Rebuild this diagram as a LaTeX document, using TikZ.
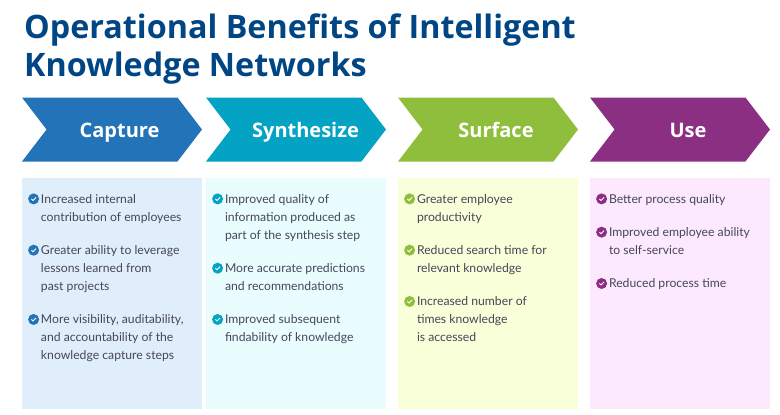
\documentclass[tikz,border=0pt]{standalone}
\usepackage{fontspec}
\setmainfont{Lato}
\newfontfamily\headfont{Open Sans}
\usetikzlibrary{shapes.symbols, positioning}

\definecolor{headblue}{HTML}{004684}
\definecolor{bodygray}{HTML}{46465A}
\definecolor{captureblue}{HTML}{2273B8}
\definecolor{synthteal}{HTML}{04A3C3}
\definecolor{surfacegreen}{HTML}{8FBE3C}
\definecolor{usepurple}{HTML}{8A2F82}
\definecolor{capturepale}{HTML}{DFEEFA}
\definecolor{synthpale}{HTML}{E9FDFF}
\definecolor{surfacepale}{HTML}{F9FFD8}
\definecolor{usepale}{HTML}{FDE9FE}

\newcommand{\lh}{\rule[-5.4pt]{0pt}{18pt}}

\begin{document}
\begin{tikzpicture}[
    % --- STYLES ---
    headline/.style={anchor=north west, inner sep=0pt, align=left, text=headblue, font=\headfont\fontsize{32.3}{38}\selectfont\bfseries},
    chevron/.style={draw=none, fill=#1, shape=signal, signal from=west, signal to=east, signal pointer angle=105, minimum width=180pt, minimum height=64pt, inner sep=0pt, outer sep=0pt},
    steplabel/.style={text=white, inner sep=0pt, text height=18pt, text depth=3pt, font=\headfont\fontsize{20}{22}\selectfont\bfseries},
    panel/.style={fill=#1, minimum width=180pt, minimum height=231pt, inner sep=0pt, outer sep=0pt},
    item/.style={inner sep=0pt, outer sep=0pt, align=left, text=bodygray, font=\fontsize{12.2}{18}\selectfont},
    tick/.style={circle, fill=#1, minimum size=11pt, inner sep=0pt, outer sep=0pt, path picture={
        \draw[white, line width=0.9pt] ([shift={(-2.2pt,0pt)}]path picture bounding box.center) -- ++(1.6pt,-1.5pt) -- ++(3pt,3pt);}}
]
    \useasboundingbox (0pt,0pt) rectangle (780pt,-415pt);

    % --- TITLE ---
    \node[headline] (title) at (24pt,-14pt) {Operational Benefits of Intelligent\\Knowledge Networks};

    % --- PANELS ---
    \node[panel=capturepale, anchor=north west] (capture) at (22pt,-178pt) {};
    \node[panel=synthpale, right=4pt of capture] (synth) {};
    \node[panel=surfacepale, right=12pt of synth] (surface) {};
    \node[panel=usepale, right=12pt of surface] (use) {};

    % --- CHEVRONS ---
    \node[chevron=captureblue, above=16.5pt of capture] (captureHead) {};
    \node[chevron=synthteal, above=16.5pt of synth] (synthHead) {};
    \node[chevron=surfacegreen, above=16.5pt of surface] (surfaceHead) {};
    \node[chevron=usepurple, above=16.5pt of use] (useHead) {};

    \node[steplabel, right=7.5pt of captureHead.center, anchor=center] (captureText) {Capture};
    \node[steplabel, right=9.5pt of synthHead.center, anchor=center] (synthText) {Synthesize};
    \node[steplabel, right=8pt of surfaceHead.center, anchor=center] (surfaceText) {Surface};
    \node[steplabel, right=8pt of useHead.center, anchor=center] (useText) {Use};

    % Capture column
    \node[item, below right=12.7pt and 19pt of capture.north west] (capA) {\lh Increased internal\\contribution of employees\lh};
    \node[item, below=15.3pt of capA.south west, anchor=north west] (capB) {\lh Greater ability to leverage\\lessons learned from\\past projects\lh};
    \node[item, below=15.3pt of capB.south west, anchor=north west] (capC) {\lh More visibility, auditability,\\and accountability of the\\knowledge capture steps\lh};
    \node[tick=captureblue, below left=4.3pt and 3.5pt of capA.north west] (capAtick) {};
    \node[tick=captureblue, below left=4.3pt and 3.5pt of capB.north west] (capBtick) {};
    \node[tick=captureblue, below left=4.3pt and 3.5pt of capC.north west] (capCtick) {};

    % Synthesize column
    \node[item, below right=12.7pt and 19pt of synth.north west] (synA) {\lh Improved quality of\\information produced as\\part of the synthesis step\lh};
    \node[item, below=15.3pt of synA.south west, anchor=north west] (synB) {\lh More accurate predictions\\and recommendations\lh};
    \node[item, below=15.3pt of synB.south west, anchor=north west] (synC) {\lh Improved subsequent\\findability of knowledge\lh};
    \node[tick=synthteal, below left=4.3pt and 3.5pt of synA.north west] (synAtick) {};
    \node[tick=synthteal, below left=4.3pt and 3.5pt of synB.north west] (synBtick) {};
    \node[tick=synthteal, below left=4.3pt and 3.5pt of synC.north west] (synCtick) {};

    % Surface column
    \node[item, below right=12.7pt and 19pt of surface.north west] (surA) {\lh Greater employee\\productivity\lh};
    \node[item, below=15.3pt of surA.south west, anchor=north west] (surB) {\lh Reduced search time for\\relevant knowledge\lh};
    \node[item, below=15.3pt of surB.south west, anchor=north west] (surC) {\lh Increased number of\\times knowledge\\is accessed\lh};
    \node[tick=surfacegreen, below left=4.3pt and 3.5pt of surA.north west] (surAtick) {};
    \node[tick=surfacegreen, below left=4.3pt and 3.5pt of surB.north west] (surBtick) {};
    \node[tick=surfacegreen, below left=4.3pt and 3.5pt of surC.north west] (surCtick) {};

    % Use column
    \node[item, below right=12.7pt and 19pt of use.north west] (useA) {\lh Better process quality\lh};
    \node[item, below=15.3pt of useA.south west, anchor=north west] (useB) {\lh Improved employee ability\\to self-service\lh};
    \node[item, below=15.3pt of useB.south west, anchor=north west] (useC) {\lh Reduced process time\lh};
    \node[tick=usepurple, below left=4.3pt and 3.5pt of useA.north west] (useAtick) {};
    \node[tick=usepurple, below left=4.3pt and 3.5pt of useB.north west] (useBtick) {};
    \node[tick=usepurple, below left=4.3pt and 3.5pt of useC.north west] (useCtick) {};

\end{tikzpicture}
\end{document}
